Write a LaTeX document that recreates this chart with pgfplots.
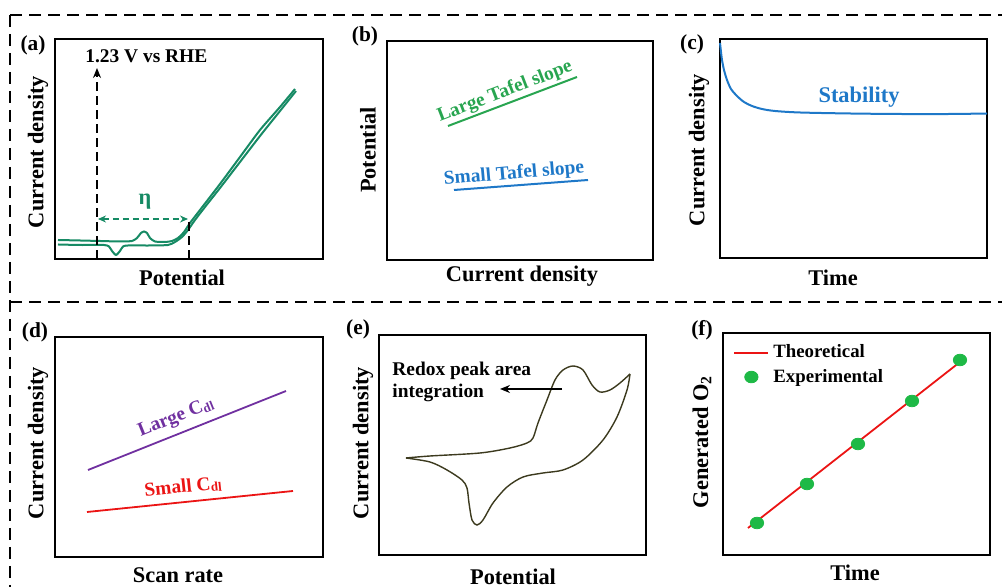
\documentclass[border=0pt]{standalone}
\usepackage{fontspec}
\setmainfont{Liberation Serif}
\usepackage{pgfplots}
\pgfplotsset{compat=1.18}
\usetikzlibrary{arrows.meta}

\definecolor{cvgreen}{RGB}{22,138,100}
\definecolor{tgreen}{RGB}{40,165,80}
\definecolor{tblue}{RGB}{30,120,200}
\definecolor{cpurple}{RGB}{112,48,160}
\definecolor{cred}{RGB}{235,20,20}
\definecolor{cvolive}{RGB}{60,58,30}
\definecolor{dotgreen}{RGB}{30,185,70}

\newcommand{\lab}{\fontsize{11.2}{13}\selectfont\bfseries}
\newcommand{\ann}{\fontsize{9.7}{10.8}\selectfont\bfseries}
\newcommand{\pl}{\fontsize{10.7}{12}\selectfont\bfseries}
\newcommand{\sub}[1]{\raisebox{-0.25ex}{\fontsize{6.5}{7}\selectfont #1}}

\pgfplotsset{panel/.style={scale only axis, anchor=south west, y dir=reverse,
  clip=false, xtick=\empty, ytick=\empty, axis line style={line width=1pt}}}
\tikzset{frame/.style={line width=1pt, dash pattern=on 6pt off 3.5pt}}

\begin{document}
\begin{tikzpicture}
\useasboundingbox (0,0) rectangle (501pt,293.5pt);
% dashed frame
\draw[frame] (5pt,286pt) -- (501pt,286pt);
\draw[frame] (5pt,286pt) -- (5pt,0pt);
\draw[frame] (5pt,142.5pt) -- (501pt,142.5pt);

% ---------------- (a)
\begin{axis}[panel, at={(27.5pt,164pt)}, width=134pt, height=110pt,
  xmin=55, xmax=323, ymin=39, ymax=259]
\addplot[cvgreen, line width=1pt, smooth, tension=0.4] coordinates {
 (58,240) (80,240.5) (100,241) (120,241.5) (132,241) (137,238) (141,233)
 (144,231.5) (147,233) (150,238) (155,241.5) (165,242) (172,241) (178,238)
 (184,232) (190,223) (200,210) (220,184) (240,157) (260,130) (280,107) (295,89)};
\addplot[cvgreen, line width=1pt, smooth, tension=0.4] coordinates {
 (296,91) (280,111) (260,136) (240,162) (220,188) (205,207) (195,220)
 (188,230) (182,237) (175,242) (168,245) (150,245.5) (128,245.5) (123,246.5)
 (120,251) (116,255) (112,251) (109,246.5) (104,245) (80,245) (58,244.5)};
\draw[line width=1pt, dash pattern=on 4.5pt off 2.5pt, -{Stealth[length=5pt,width=4pt]}]
  (axis cs:97,259) -- (axis cs:97,68);
\draw[line width=1pt, dash pattern=on 4.5pt off 2.5pt] (axis cs:189,259) -- (axis cs:189,218);
\draw[cvgreen, line width=0.8pt, dash pattern=on 3pt off 2pt,
  {Stealth[length=4pt,width=3.5pt]}-{Stealth[length=4pt,width=3.5pt]}]
  (axis cs:98,219) -- (axis cs:188,219);
\node[cvgreen, font=\lab] at (axis cs:145,202) {η};
\node[anchor=west, font=\ann, inner sep=0pt] at (axis cs:85,56) {1.23 V vs RHE};
\node[font=\pl] at (axis cs:33,45) {(a)};
\node[font=\lab, rotate=90] at (axis cs:38,152) {Current density};
\node[font=\lab] at (axis cs:182,278) {Potential};
\end{axis}

% ---------------- (b)
\begin{axis}[panel, at={(193.5pt,163.5pt)}, width=133pt, height=109.5pt,
  xmin=387, xmax=653, ymin=41, ymax=260]
\addplot[tgreen, line width=1pt] coordinates {(448,126) (577,77)};
\addplot[tblue, line width=1pt] coordinates {(454,190) (588,180)};
\node[tgreen, font=\ann, rotate=21] at (axis cs:505,92) {Large Tafel slope};
\node[tblue, font=\ann, rotate=5] at (axis cs:514,174) {Small Tafel slope};
\node[font=\pl] at (axis cs:365,36) {(b)};
\node[font=\lab, rotate=90] at (axis cs:368,150) {Potential};
\node[font=\lab] at (axis cs:522,276) {Current density};
\end{axis}

% ---------------- (c)
\begin{axis}[panel, at={(360pt,164.5pt)}, width=133.5pt, height=109.5pt,
  xmin=720, xmax=987, ymin=39, ymax=258]
\addplot[tblue, line width=1pt, smooth, tension=0.5] coordinates {
 (720,43) (721,52) (722,60) (724,70) (727,80) (731,89) (737,96) (744,102)
 (752,106) (762,109) (775,111) (800,112.5) (850,113.5) (900,114) (950,114) (987,113.5)};
\node[tblue, font=\lab] at (axis cs:859,97) {Stability};
\node[font=\pl] at (axis cs:692,44) {(c)};
\node[font=\lab, rotate=90] at (axis cs:699,150) {Current density};
\node[font=\lab] at (axis cs:833,278) {Time};
\end{axis}

% ---------------- (d)
\begin{axis}[panel, at={(27.5pt,15pt)}, width=134pt, height=110pt,
  xmin=55, xmax=323, ymin=337, ymax=557]
\addplot[cpurple, line width=0.9pt] coordinates {(88,470) (286,391)};
\addplot[cred, line width=0.9pt] coordinates {(87,512) (293,491)};
\node[cpurple, font=\ann, rotate=22] at (axis cs:176,418) {Large C\sub{dl}};
\node[cred, font=\ann, rotate=6] at (axis cs:183,487) {Small C\sub{dl}};
\node[font=\pl] at (axis cs:35,332) {(d)};
\node[font=\lab, rotate=90] at (axis cs:38,443) {Current density};
\node[font=\lab] at (axis cs:178,575) {Scan rate};
\end{axis}

% ---------------- (e)
\begin{axis}[panel, at={(189.5pt,16pt)}, width=133.5pt, height=110pt,
  xmin=379, xmax=646, ymin=335, ymax=555]
\addplot[cvolive, line width=0.7pt, smooth, tension=0.5] coordinates {
 (406,458) (430,456) (480,453) (510,448) (527,443) (533,438) (538,423)
 (547,400) (555,380) (563,370) (573,366) (583,370) (592,385) (600,392)
 (610,390) (620,383) (630,374)};
\addplot[cvolive, line width=0.7pt, smooth, tension=0.5] coordinates {
 (630,374) (627,390) (617,417) (603,440) (583,460) (563,470) (543,473)
 (523,477) (507,487) (493,503) (483,520) (477,525) (472,520) (469,503)
 (467,488) (462,480) (447,470) (430,462) (406,458)};
\draw[line width=0.8pt, -{Stealth[length=5pt,width=4pt]}] (axis cs:562,389) -- (axis cs:500,389);
\node[anchor=west, align=left, font=\ann, inner sep=0pt] at (axis cs:392,382)
  {Redox peak area\\integration};
\node[font=\pl] at (axis cs:358,329) {(e)};
\node[font=\lab, rotate=90] at (axis cs:363,443) {Current density};
\node[font=\lab] at (axis cs:513,577) {Potential};
\end{axis}

% ---------------- (f)
\begin{axis}[panel, at={(361.5pt,16pt)}, width=133.5pt, height=111pt,
  xmin=723, xmax=990, ymin=333, ymax=555,
  legend style={draw=none, fill=none, at={(0.03,0.975)}, anchor=north west,
    font=\fontsize{9.4}{11}\selectfont\bfseries, row sep=0pt, inner sep=1pt},
  legend cell align=left]
\addplot[cred, line width=0.9pt] coordinates {(748,528) (960,362)};
\addlegendentry{Theoretical}
\addplot[only marks, mark=*, mark size=2.9pt, dotgreen, mark options={xscale=1.15}]
  coordinates {(757,523) (807,484) (858,444) (912,401) (960,360)};
\addlegendentry{Experimental}
\node[font=\pl] at (axis cs:702,330) {(f)};
\node[font=\lab, rotate=90] at (axis cs:702,442) {Generated O\textsubscript{2}};
\node[font=\lab] at (axis cs:855,573) {Time};
\end{axis}
\end{tikzpicture}
\end{document}
